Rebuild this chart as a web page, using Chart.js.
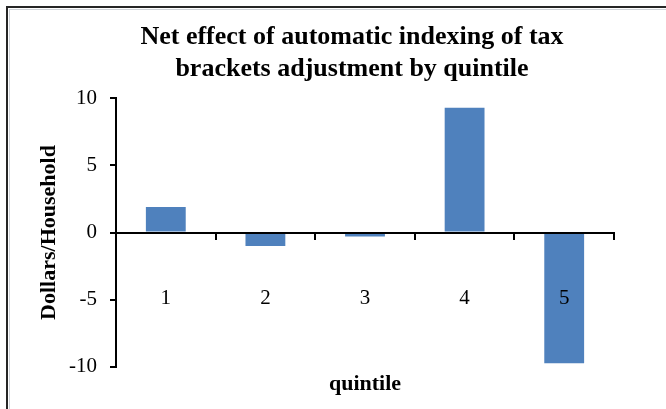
<!DOCTYPE html>
<html>
<head>
<meta charset="utf-8">
<script src="https://cdn.jsdelivr.net/npm/chart.js@4/dist/chart.umd.min.js"></script>
<style>
  html, body { margin: 0; padding: 0; background: #fff; overflow: hidden; }
  body { width: 666px; height: 409px; position: relative; }
  #chart { position: absolute; left: 0; top: 0; }
  .frame { position: absolute; width: 800px; height: 500px; }
  #frame-outer { left: 6px; top: 6px; border-top: 2px solid #262626; border-left: 2px solid #262626; }
  #frame-inner { left: 9px; top: 9px; border-top: 1px solid #cfd3d8; border-left: 1px solid #cfd3d8; }
</style>
</head>
<body>
<canvas id="chart" width="704" height="409"></canvas>
<div class="frame" id="frame-outer"></div>
<div class="frame" id="frame-inner"></div>
<script>
const quintiles = ['1', '2', '3', '4', '5'];
const netEffect = [1.9, -1.0, -0.3, 9.3, -9.75];
const yTicks = [-10, -5, 0, 5, 10];

const titleLines = ['Net effect of automatic indexing of tax', 'brackets adjustment by quintile'];
const serif = "'Liberation Serif', 'Times New Roman', serif";

Chart.defaults.font.family = serif;
Chart.defaults.color = '#000';

let config = {
  type: 'bar',
  data: {
    labels: quintiles,
    datasets: [{
      data: netEffect,
      backgroundColor: '#4f81bd',
      borderWidth: 0,
      barPercentage: 0.4,
      categoryPercentage: 1
    }]
  },
  options: {
    responsive: false,
    animation: false,
    layout: {
      padding: 0
    },
    plugins: {
      legend: {display: false},
      tooltip: {enabled: false},
      title: {
        display: true,
        text: titleLines,
        font: {size: 26, weight: 'bold', lineHeight: 1.2},
        padding: {top: 22, bottom: 14}
      },
      subtitle: {
        display: true,
        position: 'bottom',
        fullSize: false,
        text: 'quintile',
        font: {size: 22, weight: 'bold', lineHeight: 1.2},
        padding: {top: 5, bottom: 11}
      }
    },
    scales: {
      x: {
        position: {y: 0},
        offset: true,
        // axis line, tick marks and labels sit on top of the bars
        grid: {
          offset: true,
          drawOnChartArea: false,
          drawTicks: true,
          tickLength: 6,
          color: '#000',
          lineWidth: 2,
          z: 1
        },
        border: {color: '#000', width: 2, z: 1},
        ticks: {
          padding: 47,
          font: {size: 21},
          z: 1
        }
      },
      y: {
        min: -10,
        max: 10,
        afterFit: function(scale) {
          scale.width = 116;
        },
        afterBuildTicks: function(scale) {
          scale.ticks = yTicks.map(v => ({value: v}));
        },
        grid: {
          drawOnChartArea: false,
          drawTicks: true,
          tickLength: 6,
          color: '#000',
          lineWidth: 2
        },
        border: {color: '#000', width: 2},
        ticks: {
          padding: 13,
          font: {size: 21}
        },
        title: {
          display: true,
          text: 'Dollars/Household',
          font: {size: 22, weight: 'bold', lineHeight: 1.2},
          padding: {top: 36, bottom: 0}
        }
      },
      // empty right-hand gutter so the plot stops short of the canvas edge
      gutter: {
        type: 'linear',
        position: 'right',
        display: true,
        ticks: {display: false},
        grid: {display: false},
        border: {display: false},
        afterFit: function(scale) {
          scale.width = 90;
        }
      }
    }
  }
};

let ctx = document.getElementById('chart').getContext('2d');
window.quintileChart = new Chart(ctx, config);
</script>
</body>
</html>
